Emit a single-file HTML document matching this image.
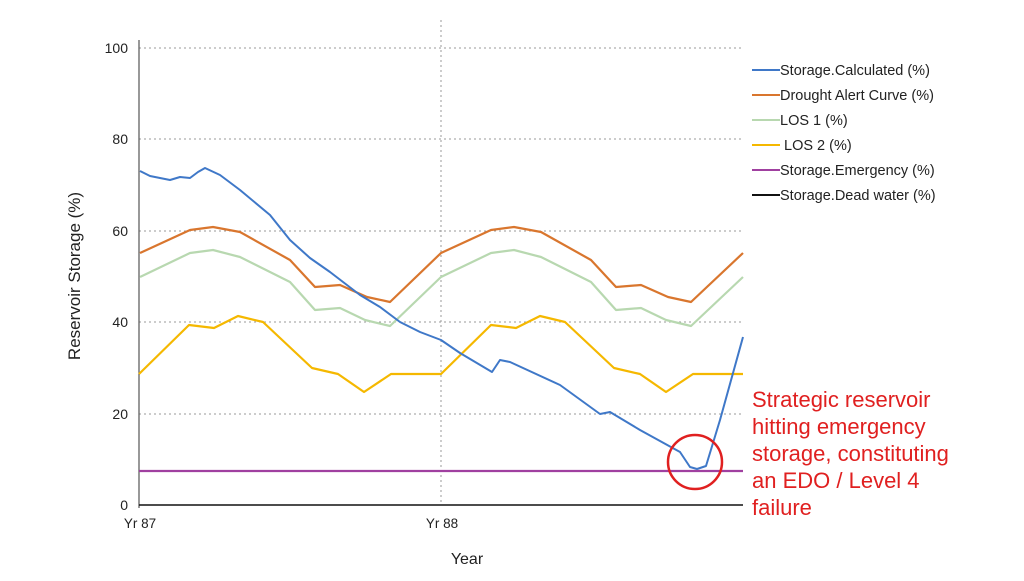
<!DOCTYPE html><html><head><style>body{margin:0;background:#fff}svg{font-family:"Liberation Sans",sans-serif}</style></head><body>
<svg width="1024" height="576" viewBox="0 0 1024 576">
<g stroke="#999" stroke-dasharray="2,3" stroke-width="1">
<line x1="139" y1="48" x2="743" y2="48"/><line x1="139" y1="139" x2="743" y2="139"/><line x1="139" y1="231" x2="743" y2="231"/><line x1="139" y1="322" x2="743" y2="322"/><line x1="139" y1="414" x2="743" y2="414"/>
<line x1="441" y1="20" x2="441" y2="505"/></g>
<line x1="139" y1="40" x2="139" y2="508" stroke="#555" stroke-width="1.2"/>
<g font-size="14" fill="#222" text-anchor="end"><text x="128" y="53">100</text><text x="128" y="144">80</text><text x="128" y="236">60</text><text x="128" y="327">40</text><text x="128" y="419">20</text><text x="128" y="510">0</text></g>
<g font-size="13.5" fill="#222" text-anchor="middle"><text x="140" y="528">Yr 87</text><text x="442" y="528">Yr 88</text><text x="467" y="564" font-size="16">Year</text></g>
<text transform="translate(80,276) rotate(-90)" font-size="17" fill="#222" text-anchor="middle">Reservoir Storage (%)</text>
<g fill="none" stroke-width="2.2" stroke-linejoin="round">
<polyline stroke="#b8d8b0" points="140,277 190,253 213,250 240,257 290,282 315,310 340,308 365,320 390,326 441,277 491,253 514,250 541,257 591,282 616,310 641,308 666,320 691,326 743,277"/>
<polyline stroke="#d9762e" points="140,253 190,230 213,227 240,232 290,260 315,287 340,285 367,297 390,302 441,253 491,230 514,227 541,232 591,260 616,287 641,285 668,297 691,302 743,253"/>
<polyline stroke="#f5b800" points="139,374 189,325 214,328 238,316 263,322 312,368 338,374 364,392 391,374 441,374 491,325 516,328 540,316 565,322 614,368 640,374 666,392 693,374 743,374"/>
<line x1="139" y1="471" x2="743" y2="471" stroke="#a040a0"/>
<polyline stroke="#3f78c8" stroke-width="2" points="140,171 150,176 170,180 180,177 190,178 198,172 205,168 220,175 240,190 270,215 290,240 310,258 330,272 360,295 380,307 400,322 420,332 441,340 460,353 492,372 500,360 510,362 560,385 600,414 610,412 640,430 680,452 690,467 697,469 706,466 720,420 743,337"/>
</g>
<line x1="139" y1="505" x2="743" y2="505" stroke="#111" stroke-width="1.5"/>
<circle cx="695" cy="462" r="27" fill="none" stroke="#e02020" stroke-width="2.5"/>
<g stroke-width="2"><line x1="752" y1="70" x2="780" y2="70" stroke="#3f78c8"/><line x1="752" y1="95" x2="780" y2="95" stroke="#d9762e"/><line x1="752" y1="120" x2="780" y2="120" stroke="#b8d8b0"/><line x1="752" y1="145" x2="780" y2="145" stroke="#f5b800"/><line x1="752" y1="170" x2="780" y2="170" stroke="#a040a0"/><line x1="752" y1="195" x2="780" y2="195" stroke="#111"/></g>
<g font-size="14.5" fill="#222"><text x="780" y="75">Storage.Calculated (%)</text><text x="780" y="100">Drought Alert Curve (%)</text><text x="780" y="125">LOS 1 (%)</text><text x="784" y="150">LOS 2 (%)</text><text x="780" y="175">Storage.Emergency (%)</text><text x="780" y="200">Storage.Dead water (%)</text></g>
<g font-size="22" fill="#e02020"><text x="752" y="407">Strategic reservoir</text><text x="752" y="434">hitting emergency</text><text x="752" y="461">storage, constituting</text><text x="752" y="488">an EDO / Level 4</text><text x="752" y="515">failure</text></g>
</svg></body></html>
